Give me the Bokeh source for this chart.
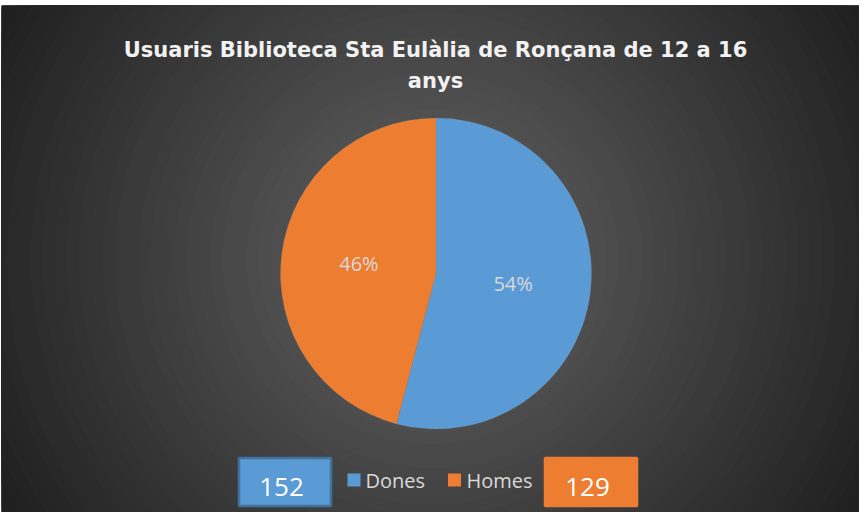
import math
from bokeh.plotting import figure
from bokeh.models import Range1d
from bokeh.core.properties import value
from bokeh.embed import file_html
from bokeh.resources import INLINE

# ---- data ----
categories = ["Dones", "Homes"]
counts = [152, 129]
colors = ["#5b9bd5", "#ed7d31"]
box_borders = ["#41719c", "#ed7d31"]
title_lines = ["Usuaris Biblioteca Sta Eulàlia de Ronçana de 12 a 16", "anys"]

W, H = 859, 512
LEFT, TOP = 1, 5
FW, FH = W - LEFT, H - TOP


def Y(py):  # page y (px) -> data y
    return 520 - py


def X(px):
    return px


p = figure(width=W, height=H, output_backend="svg", toolbar_location=None,
           x_range=Range1d(9, 867), y_range=Range1d(0, FH),
           min_border_left=LEFT, min_border_top=TOP, min_border_right=0, min_border_bottom=0)
p.axis.visible = False
p.grid.visible = False
p.outline_line_color = None
p.border_fill_color = "white"
p.background_fill_color = "#1f1f1f"

# ---- radial background gradient (decoration) ----
cx, cy = 440, 266
rs = list(range(510, 0, -12))
bg_cols = []
for r in rs:
    c = int(round(min(98, 101 - 0.139 * r)))
    bg_cols.append("#%02x%02x%02x" % (c, c, c))
p.circle(x=[X(cx)] * len(rs), y=[Y(cy)] * len(rs), radius=rs, radius_units="screen",
         fill_color=bg_cols, line_color=None)

# ---- pie ----
pcx, pcy, R = 443.5, 281, 155.5
total = sum(counts)
starts, ends, mids = [], [], []
acc = 0
for v in counts:
    a0 = math.pi / 2 - 2 * math.pi * acc / total
    acc += v
    a1 = math.pi / 2 - 2 * math.pi * acc / total
    starts.append(a0)
    ends.append(a1)
    mids.append((a0 + a1) / 2)

p.wedge(x=X(pcx), y=Y(pcy), radius=R, start_angle=starts, end_angle=ends,
        direction="clock", fill_color=colors, line_color="#8a8a8a", line_alpha=0.35, line_width=0.6)

pct = ["%d%%" % round(100 * v / total) for v in counts]
lx = [X(pcx) + 0.5 * R * math.cos(m) for m in mids]
ly = [Y(pcy) + 0.5 * R * math.sin(m) for m in mids]
p.text(x=lx, y=ly, text=pct, text_align="center", text_baseline="middle",
       text_font=value("Open Sans"), text_font_size="20px", text_color="#d9d9d9")

# ---- title ----
p.text(x=[X(443), X(443)], y=[Y(57), Y(88)], text=title_lines, text_align="center",
       text_baseline="alphabetic", text_font=value("DejaVu Sans"), text_font_style="bold",
       text_font_size="21px", text_color="#f2f2f2")

# ---- legend ----
sq_x = [361.5, 462]
p.rect(x=[X(v) for v in sq_x], y=[Y(487.5)] * 2, width=13, height=13,
       fill_color=colors, line_color=None)
p.text(x=[X(373), X(474)], y=[Y(488)] * 2, text=categories, text_align="left",
       text_baseline="middle", text_font=value("Open Sans"), text_font_size="20px",
       text_color="#d9d9d9")

# ---- value boxes ----
box_cx = [292.5, 598.5]
p.rect(x=[X(v) for v in box_cx], y=[Y(489.5)] * 2, width=92, height=48,
       fill_color=colors, line_color=box_borders, line_width=2.5)
p.text(x=[X(289), X(595)], y=[Y(494)] * 2, text=[str(c) for c in counts],
       text_align="center", text_baseline="middle", text_font=value("Open Sans"),
       text_font_size="26px", text_color="#ffffff")

open("out.html", "w").write(file_html(p, INLINE))
